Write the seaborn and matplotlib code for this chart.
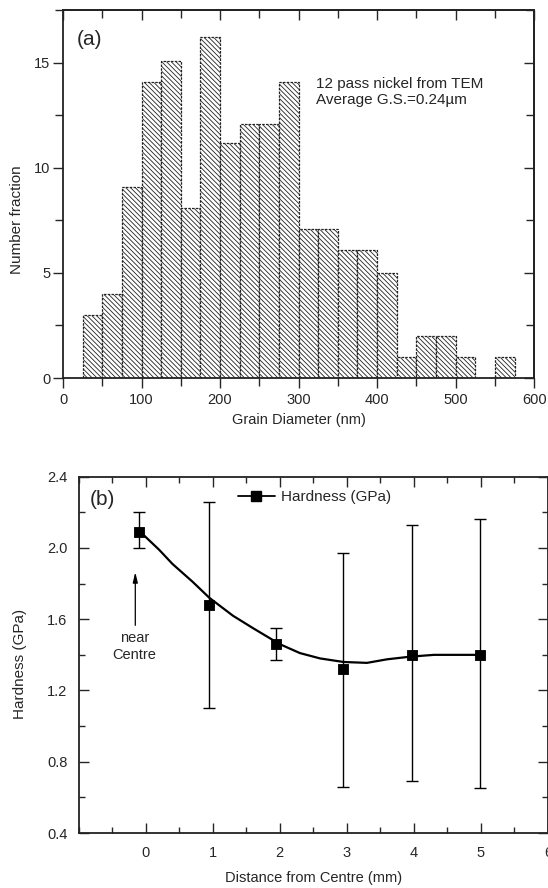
import numpy as np
import pandas as pd
import matplotlib
matplotlib.use("Agg")
import matplotlib.pyplot as plt
import seaborn as sns
from matplotlib.lines import Line2D
from matplotlib.ticker import MultipleLocator

# (a) histograma de tamaño de grano
bin_edges = [25, 50, 75, 100, 125, 150, 175, 200, 225, 250, 275, 300,
             325, 350, 375, 400, 425, 450, 475, 500, 525, 550, 575]
number_fraction = [3.0, 4.0, 9.1, 14.1, 15.1, 8.1, 16.2, 11.2, 12.1, 12.1, 14.1,
                   7.1, 7.1, 6.1, 6.1, 5.0, 1.0, 2.0, 2.0, 1.0, 0.0, 1.0]

# (b) dureza vs distancia
distance = [-0.1, 0.95, 1.95, 2.95, 3.97, 4.98]
hardness = [2.09, 1.68, 1.46, 1.32, 1.40, 1.40]
hard_low = [2.00, 1.10, 1.37, 0.66, 0.69, 0.65]
hard_high = [2.20, 2.26, 1.55, 1.97, 2.13, 2.165]

# curva suavizada
curve_x = [-0.08, 0.2, 0.4, 0.7, 0.95, 1.3, 1.6, 2.0, 2.3, 2.6, 2.95, 3.3, 3.6, 3.95, 4.3, 4.6, 5.0]
curve_y = [2.09, 1.99, 1.91, 1.81, 1.72, 1.62, 1.55, 1.46, 1.41, 1.38, 1.36, 1.355, 1.375, 1.39, 1.40, 1.40, 1.40]

sns.set_theme(style="ticks")
plt.rcParams["font.family"] = ["Liberation Sans", "DejaVu Sans"]
plt.rcParams["hatch.linewidth"] = 0.6
plt.rcParams["hatch.color"] = "#555555"
FS = 10.5

fig = plt.figure(figsize=(5.48, 8.88), dpi=100)
ax1 = fig.add_axes([0.115, 0.5743, 0.8597, 0.4144])
ax2 = fig.add_axes([0.1435, 0.0619, 0.8565, 0.4013])

# ---- panel (a)
centres = [(a + b) / 2 for a, b in zip(bin_edges[:-1], bin_edges[1:])]
df_h = pd.DataFrame({"d": centres, "w": number_fraction})
sns.histplot(data=df_h, x="d", weights="w", bins=bin_edges, ax=ax1,
             color="white", edgecolor="#222222", linewidth=0.9, alpha=1)
for p in ax1.patches:
    if p.get_height() > 0:
        p.set_hatch("\\\\\\\\\\\\\\")
        p.set_linestyle((0, (2, 1)))
    else:
        p.set_visible(False)
ax1.set_xlim(0, 600)
ax1.set_ylim(0, 17.5)
ax1.xaxis.set_major_locator(MultipleLocator(100))
ax1.xaxis.set_minor_locator(MultipleLocator(50))
ax1.yaxis.set_major_locator(MultipleLocator(5))
ax1.yaxis.set_minor_locator(MultipleLocator(2.5))
ax1.set_xlabel("Grain Diameter (nm)", fontsize=FS)
ax1.set_ylabel("Number fraction", fontsize=FS + 0.5)
ax1.xaxis.set_label_coords(0.5, -0.095)
ax1.yaxis.set_label_coords(-0.083, 0.43)
ax1.text(17, 16.1, "(a)", fontsize=15, va="center")
ax1.text(322, 13.6, "12 pass nickel from TEM\nAverage G.S.=0.24\u00b5m",
         fontsize=FS + 0.5, va="center", linespacing=1.25)
ax1.tick_params(which="both", direction="out", top=False, right=False,
                labelsize=FS)
ax1.tick_params(axis="x", which="both", pad=4)
ax1.tick_params(axis="y", which="both", pad=2)
ax1.tick_params(which="major", length=7, width=1.0)
ax1.tick_params(which="minor", length=6, width=1.0)
# marcas interiores arriba y a la derecha
top1 = ax1.secondary_xaxis("top")
right1 = ax1.secondary_yaxis("right")
top1.xaxis.set_major_locator(MultipleLocator(100))
top1.xaxis.set_minor_locator(MultipleLocator(50))
right1.yaxis.set_major_locator(MultipleLocator(5))
right1.yaxis.set_minor_locator(MultipleLocator(2.5))
for sec in (top1, right1):
    sec.tick_params(which="both", direction="in", labeltop=False, labelright=False)
    sec.tick_params(which="major", length=7, width=1.0)
    sec.tick_params(which="minor", length=6, width=1.0)
    for s in sec.spines.values():
        s.set_linewidth(1.3)

# ---- panel (b)
sns.lineplot(x=curve_x, y=curve_y, ax=ax2, color="black", linewidth=1.6)
yerr = [np.array(hardness) - np.array(hard_low), np.array(hard_high) - np.array(hardness)]
ax2.errorbar(distance, hardness, yerr=yerr, fmt="none", ecolor="black",
             elinewidth=1.0, capsize=4, capthick=1.0)
sns.scatterplot(x=distance, y=hardness, ax=ax2, marker="s", s=60,
                color="black", edgecolor="black", zorder=5)
ax2.set_xlim(-1, 6)
ax2.set_ylim(0.4, 2.4)
ax2.set_xticks([0, 1, 2, 3, 4, 5, 6])
ax2.xaxis.set_minor_locator(MultipleLocator(0.5))
ax2.yaxis.set_major_locator(MultipleLocator(0.4))
ax2.yaxis.set_minor_locator(MultipleLocator(0.2))
ax2.set_xlabel("Distance from Centre (mm)", fontsize=FS)
ax2.set_ylabel("Hardness (GPa)", fontsize=FS + 0.5)
ax2.xaxis.set_label_coords(0.5, -0.107)
ax2.yaxis.set_label_coords(-0.109, 0.475)
ax2.text(-0.84, 2.27, "(b)", fontsize=15, va="center")
ax2.annotate("", xy=(-0.155, 1.88), xytext=(-0.155, 1.55),
             arrowprops=dict(arrowstyle="-|>,head_length=0.5,head_width=0.12",
                             color="black", lw=0.9))
ax2.text(-0.17, 1.445, "near\nCentre", fontsize=FS, ha="center", va="center",
         linespacing=1.25)
handle = Line2D([], [], color="black", marker="s", markersize=6.5, linewidth=1.3)
ax2.legend([handle], ["Hardness (GPa)"], loc="upper left", bbox_to_anchor=(0.31, 1.0),
           frameon=False, fontsize=FS + 0.5, handlelength=2.4, handletextpad=0.4)
ax2.tick_params(which="both", direction="in", top=True, right=True, labelsize=FS,
                pad=9)
ax2.tick_params(axis="y", which="both", pad=8)
ax2.tick_params(which="major", length=7, width=1.0)
ax2.tick_params(which="minor", length=4, width=1.0)

for ax in (ax1, ax2):
    for s in ax.spines.values():
        s.set_linewidth(1.3)
        s.set_color("#222222")

fig.savefig("out.png", dpi=100)
